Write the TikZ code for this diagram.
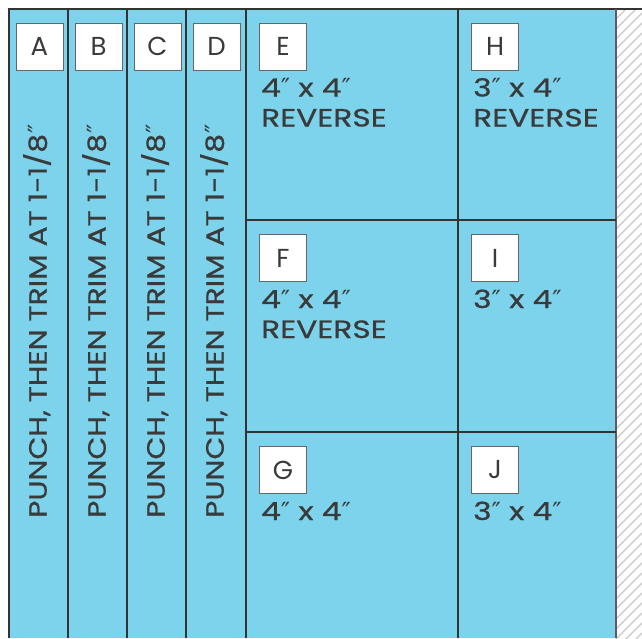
\documentclass[tikz,border=0pt]{standalone}
\usepackage{fontspec}
\setmainfont{Poppins}
\newfontfamily\primefont{DejaVu Sans}
\newcommand{\inch}{{\primefont ″}}
\definecolor{panel}{HTML}{7DD3EC}
\definecolor{frame}{HTML}{333333}
\definecolor{ink}{HTML}{3A3A3A}
\definecolor{hatch}{HTML}{C8C8C8}
\tikzset{
  divider/.style={draw=frame, line width=1.2pt},
  letterbox/.style={draw=gray!80!black, fill=white, line width=1pt, minimum width=47pt, minimum height=47pt, inner sep=0pt, font=\fontsize{26}{26}\selectfont, text=ink},
  sizelabel/.style={anchor=base west, inner sep=0pt, font=\fontsize{25}{30}\selectfont\addfontfeatures{FakeStretch=1.25,FakeBold=0.8}, text=ink},
  striptext/.style={rotate=90, anchor=base west, inner sep=0pt, font=\fontsize{25}{25}\selectfont\addfontfeatures{FakeStretch=1.19,FakeBold=0.8}, text=ink}
}
\begin{document}
\begin{tikzpicture}[x=1pt,y=-1pt]
\useasboundingbox (0,0) rectangle (642,638);
% hatched margin
\begin{scope}
\clip (616,9) rectangle (642,638);
\foreach \k in {0,...,70}{
  \draw[hatch, line width=1.3pt] (616,{9+10*\k}) -- (656,{9+10*\k-40});
}
\end{scope}
% panel
\fill[panel] (9,9) rectangle (616,638);
% frame
\draw[divider, line width=2pt] (9,638) -- (9,9) -- (642,9);
\draw[divider, draw=frame!80] (616,9) -- (616,638);
\foreach \xx in {68,127,186,246,458}{
  \draw[divider] (\xx,9) -- (\xx,638);
}
\draw[divider] (246,220) -- (616,220);
\draw[divider] (246,432) -- (616,432);
% strip letters
\node[letterbox] (A) at (39.5,46.5) {A};
\node[letterbox] (B) at (98.5,46.5) {B};
\node[letterbox] (C) at (157.5,46.5) {C};
\node[letterbox] (D) at (216.5,46.5) {D};
% strip texts
\foreach \n/\xx in {sa/46.7,sb/105.7,sc/164.7,sd/223.7}{
  \node[striptext] (\n) at (\xx,518) {PUNCH, THEN TRIM AT 1-1/8\inch};
}
% panel letters
\node[letterbox] (E) at (283,46.5) {E};
\node[letterbox] (F) at (283,258) {F};
\node[letterbox] (G) at (283,470) {G};
\node[letterbox] (H) at (495,46.5) {H};
\node[letterbox] (I) at (495,258) {I};
\node[letterbox] (J) at (495,470) {J};
% size labels
\node[sizelabel] (le) at (261,96.5) {4\inch{} x 4\inch};
\node[sizelabel] (le2) at (261,126.5) {REVERSE};
\node[sizelabel] (lf) at (261,308) {4\inch{} x 4\inch};
\node[sizelabel] (lf2) at (261,338) {REVERSE};
\node[sizelabel] (lg) at (261,520) {4\inch{} x 4\inch};
\node[sizelabel] (lh) at (473,96.5) {3\inch{} x 4\inch};
\node[sizelabel] (lh2) at (473,126.5) {REVERSE};
\node[sizelabel] (li) at (473,308) {3\inch{} x 4\inch};
\node[sizelabel] (lj) at (473,520) {3\inch{} x 4\inch};
\end{tikzpicture}
\end{document}
